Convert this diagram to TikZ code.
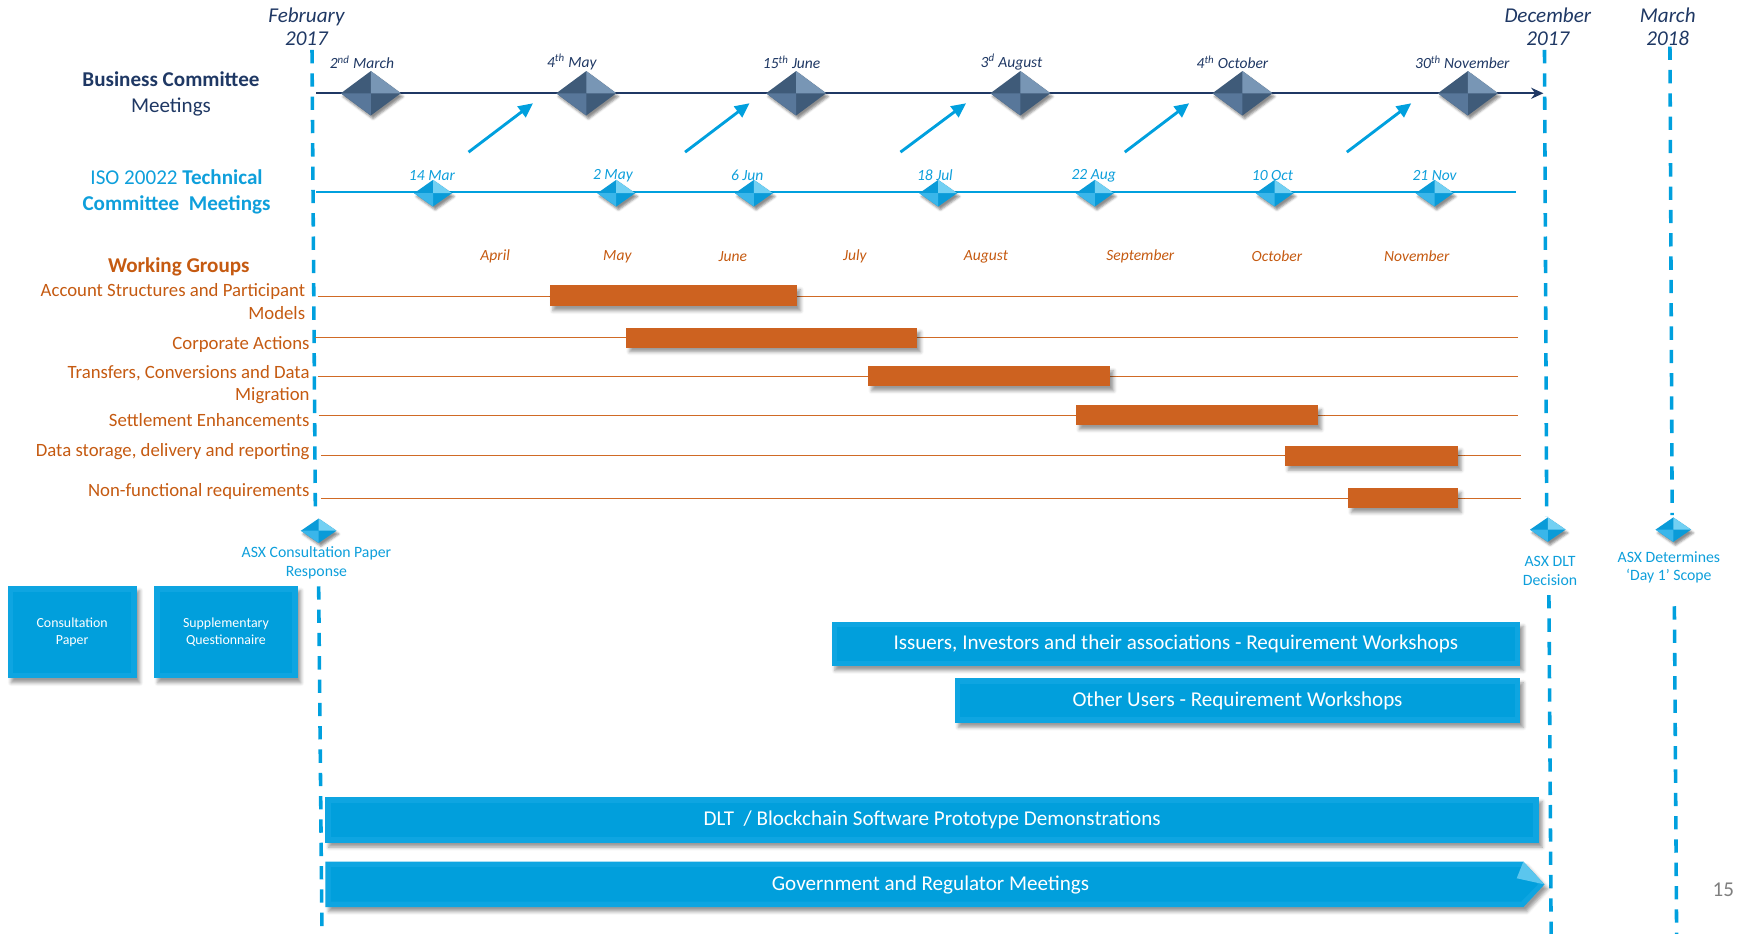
\documentclass[tikz,border=0pt]{standalone}
\usepackage{fontspec}
\setmainfont{Carlito}
\usetikzlibrary{arrows.meta,shadows.blur}

\definecolor{navy}{HTML}{1F3864}
\definecolor{gemnavy}{HTML}{3F5B79}
\definecolor{gemnavylt}{HTML}{7896B5}
\definecolor{gemnavymd}{HTML}{58779A}
\definecolor{sky}{HTML}{00A0DE}
\definecolor{skytext}{HTML}{0E9FDB}
\definecolor{gemsky}{HTML}{0A9BD8}
\definecolor{gemskylt}{HTML}{72D0F3}
\definecolor{gemskymd}{HTML}{3AB6EA}
\definecolor{rust}{HTML}{C55A11}
\definecolor{rustline}{HTML}{D06A25}
\definecolor{rustbar}{HTML}{CD6220}
\definecolor{boxblue}{HTML}{019FDC}
\definecolor{boxedge}{HTML}{0EA5E1}
\definecolor{pagegray}{HTML}{7F7F7F}

\tikzset{
  pics/gem/.style n args={5}{code={
    \fill[#3, blur shadow={shadow xshift=2pt, shadow yshift=-3pt, shadow opacity=45, shadow blur radius=2pt}]
      (-#1,0) -- (0,-#2) -- (#1,0) -- (0,#2) -- cycle;
    \fill[#4] (0,-#2) -- (#1,0) -- (0,0) -- cycle;
    \fill[#5] (-#1,0) -- (0,#2) -- (0,0) -- cycle;
  }},
  toplabel/.style={font=\fontsize{19}{21}\selectfont\itshape, text=navy, align=center, inner sep=0pt},
  rowhead/.style={font=\fontsize{19}{23.5}\selectfont, align=center, inner sep=0pt},
  bdate/.style={font=\fontsize{14}{16}\selectfont\itshape, text=navy, inner sep=0pt},
  idate/.style={font=\fontsize{14}{16}\selectfont\itshape, text=skytext, inner sep=0pt},
  month/.style={font=\fontsize{14}{16}\selectfont\itshape, text=rust, inner sep=0pt},
  wglabel/.style={font=\fontsize{16.9}{20}\selectfont, text=rust, align=right, anchor=east, inner sep=0pt},
  asxlabel/.style={font=\fontsize{14.2}{17}\selectfont, text=skytext, align=center, inner sep=0pt},
  vdash/.style={draw=sky, line width=3.2pt, dash pattern=on 12pt off 9pt},
  feedarrow/.style={draw=sky, line width=2.6pt, -{Triangle[length=13pt,width=12pt]}},
  rowline/.style={draw=rustline, line width=1.3pt},
  bar/.style={fill=rustbar, inner sep=0pt,
    blur shadow={shadow xshift=3pt, shadow yshift=-4pt, shadow opacity=40, shadow blur radius=3pt}},
  bluebox/.style={fill=boxedge, inner sep=0pt, text=white, align=center,
    blur shadow={shadow xshift=3pt, shadow yshift=-4pt, shadow opacity=40, shadow blur radius=3pt},
    path picture={\fill[boxblue] ([shift={(5pt,-5pt)}]path picture bounding box.north west)
      rectangle ([shift={(-5pt,5pt)}]path picture bounding box.south east);}},
  smallbox/.style={bluebox, font=\fontsize{12.5}{15}\selectfont},
  widebox/.style={bluebox, font=\fontsize{19}{21}\selectfont},
}

\begin{document}
\begin{tikzpicture}[x=1pt, y=-1pt]
\useasboundingbox (0,0) rectangle (1568,841);

% ---------- milestone columns ----------
\node[toplabel] (feb) at (276,24) {February\\2017};
\node[toplabel] (dec) at (1394,24) {December\\2017};
\node[toplabel] (mar) at (1502,24) {March\\2018};

\coordinate (febA) at (281,45);   \coordinate (febB) at (284,459);
\coordinate (febC) at (287,528);  \coordinate (febD) at (290,841);
\coordinate (decA) at (1391,45);  \coordinate (decB) at (1393,465);
\coordinate (decC) at (1395,536); \coordinate (decD) at (1397,841);
\coordinate (marA) at (1504,42);  \coordinate (marB) at (1506,464);
\coordinate (marC) at (1508,546); \coordinate (marD) at (1510,841);
\draw[vdash] (febA) -- (febB);
\draw[vdash] (febC) -- (febD);
\draw[vdash] (decA) -- (decB);
\draw[vdash] (decC) -- (decD);
\draw[vdash] (marA) -- (marB);
\draw[vdash] (marC) -- (marD);

% ---------- Business Committee ----------
\node[rowhead, text=navy] (bc) at (154,84.5) {\textbf{Business Committee}\\Meetings};
\coordinate (bs) at (285,84);
\coordinate (be) at (1390,84);
\draw[navy, line width=2pt, -{Stealth[length=11pt,width=10pt]}] (bs) -- (be);

\coordinate (b1) at (334,84);
\coordinate (b2) at (528,84);
\coordinate (b3) at (717,84);
\coordinate (b4) at (919,84);
\coordinate (b5) at (1119,84);
\coordinate (b6) at (1322,84);
\foreach \c in {b1,b2,b3,b4,b5,b6} { \pic at (\c) {gem={27}{20}{gemnavy}{gemnavylt}{gemnavymd}}; }

\node[bdate] (bl1) at (326,56) {2\textsuperscript{nd} March};
\node[bdate] (bl2) at (515,56) {4\textsuperscript{th} May};
\node[bdate] (bl3) at (713,56) {15\textsuperscript{th} June};
\node[bdate] (bl4) at (911,56) {3\textsuperscript{d} August};
\node[bdate] (bl5) at (1110,56) {4\textsuperscript{th} October};
\node[bdate] (bl6) at (1317,56) {30\textsuperscript{th} November};

% ---------- feed arrows into the business meetings ----------
\coordinate (t1) at (422,137);  \coordinate (h1) at (480,93);
\coordinate (t2) at (617,137);  \coordinate (h2) at (675,93);
\coordinate (t3) at (811,137);  \coordinate (h3) at (870,93);
\coordinate (t4) at (1013,137); \coordinate (h4) at (1071,93);
\coordinate (t5) at (1213,137); \coordinate (h5) at (1271,93);
\draw[feedarrow] (t1) -- (h1);
\draw[feedarrow] (t2) -- (h2);
\draw[feedarrow] (t3) -- (h3);
\draw[feedarrow] (t4) -- (h4);
\draw[feedarrow] (t5) -- (h5);

% ---------- ISO 20022 Technical Committee ----------
\node[rowhead, text=skytext] (iso) at (159,173) {ISO 20022 \textbf{Technical}\\\textbf{Committee~ Meetings}};
\coordinate (is) at (285,173);
\coordinate (ie) at (1365,173);
\draw[sky, line width=1.3pt] (is) -- (ie);

\coordinate (i1) at (390,174);
\coordinate (i2) at (555,174);
\coordinate (i3) at (679,174);
\coordinate (i4) at (845,174);
\coordinate (i5) at (986,174);
\coordinate (i6) at (1148,174);
\coordinate (i7) at (1292,174);
\foreach \c in {i1,i2,i3,i4,i5,i6,i7} { \pic at (\c) {gem={17}{12}{gemsky}{gemskylt}{gemskymd}}; }

\node[idate] (il1) at (389,158) {14 Mar};
\node[idate] (il2) at (552,158) {2 May};
\node[idate] (il3) at (673,158) {6 Jun};
\node[idate] (il4) at (842,158) {18 Jul};
\node[idate] (il5) at (985,158) {22 Aug};
\node[idate] (il6) at (1146,158) {10 Oct};
\node[idate] (il7) at (1292,158) {21 Nov};

% ---------- Working Groups ----------
\node[font=\fontsize{19}{22}\selectfont\bfseries, text=rust, inner sep=0pt] (wg) at (161,240) {Working Groups};

\node[month] (mApr) at (446,231) {April};
\node[month] (mMay) at (556,231) {May};
\node[month] (mJun) at (660,231) {June};
\node[month] (mJul) at (770,231) {July};
\node[month] (mAug) at (888,231) {August};
\node[month] (mSep) at (1027,231) {September};
\node[month] (mOct) at (1150,231) {October};
\node[month] (mNov) at (1276,231) {November};

\node[wglabel] (w1) at (275,271.5) {Account Structures and Participant\\Models};
\node[wglabel] (w2) at (279,310) {Corporate Actions};
\node[wglabel] (w3) at (279,346.5) {Transfers, Conversions and Data\\Migration};
\node[wglabel] (w4) at (279,378) {Settlement Enhancements};
\node[wglabel] (w5) at (279,407) {Data storage, delivery and reporting};
\node[wglabel] (w6) at (279,443) {Non-functional requirements};

\coordinate (r1a) at (286,267); \coordinate (r1b) at (1367,267);
\coordinate (r2a) at (284,304); \coordinate (r2b) at (1367,304);
\coordinate (r3a) at (286,339); \coordinate (r3b) at (1367,339);
\coordinate (r4a) at (287,374); \coordinate (r4b) at (1367,374);
\coordinate (r5a) at (289,410); \coordinate (r5b) at (1370,410);
\coordinate (r6a) at (289,449); \coordinate (r6b) at (1370,449);
\draw[rowline] (r1a) -- (r1b);
\draw[rowline] (r2a) -- (r2b);
\draw[rowline] (r3a) -- (r3b);
\draw[rowline] (r4a) -- (r4b);
\draw[rowline] (r5a) -- (r5b);
\draw[rowline] (r6a) -- (r6b);

\node[bar, minimum width=223pt, minimum height=19pt] (g1) at (606.5,266.5) {};
\node[bar, minimum width=262pt, minimum height=18pt] (g2) at (695,304) {};
\node[bar, minimum width=218pt, minimum height=18pt] (g3) at (891,339) {};
\node[bar, minimum width=218pt, minimum height=18pt] (g4) at (1078,374) {};
\node[bar, minimum width=156pt, minimum height=18pt] (g5) at (1235,410.5) {};
\node[bar, minimum width=99pt, minimum height=18pt] (g6) at (1263.5,448.5) {};

% ---------- ASX milestones ----------
\coordinate (m1) at (287,478);
\coordinate (m2) at (1394,477);
\coordinate (m3) at (1507,477);
\foreach \c in {m1,m2,m3} { \pic at (\c) {gem={16}{11}{gemsky}{gemskylt}{gemskymd}}; }
\node[asxlabel] (ml1) at (285,506.5) {ASX Consultation Paper\\Response};
\node[asxlabel] (ml2) at (1396,514.5) {ASX DLT\\Decision};
\node[asxlabel] (ml3) at (1503,511) {ASX Determines\\‘Day 1’ Scope};

% ---------- documents ----------
\node[smallbox, minimum width=116pt, minimum height=83pt] (cp) at (65,569.5) {Consultation\\Paper};
\node[smallbox, minimum width=129pt, minimum height=83pt] (sq) at (203.5,569.5) {Supplementary\\Questionnaire};

% ---------- workshops and demonstrations ----------
\node[widebox, minimum width=620pt, minimum height=40pt] (iss) at (1059,580)
  {Issuers, Investors and their associations - Requirement Workshops};
\node[widebox, minimum width=509pt, minimum height=40pt] (oth) at (1114.5,631)
  {Other Users - Requirement Workshops};
\node[widebox, minimum width=1093pt, minimum height=41pt] (dlt) at (839.5,738.5)
  {DLT~ / Blockchain Software Prototype Demonstrations};

% government meetings: pointed band running up to the December line
\coordinate (gNW) at (293,776);
\coordinate (gNE) at (1372,776);
\coordinate (gTip) at (1391,796.5);
\coordinate (gSE) at (1372,817);
\coordinate (gSW) at (293,817);
\fill[boxedge, blur shadow={shadow xshift=3pt, shadow yshift=-4pt, shadow opacity=40, shadow blur radius=3pt}]
  (gNW) -- (gNE) -- (gTip) -- (gSE) -- (gSW) -- cycle;
\fill[boxblue] (298,781) -- (1370,781) -- (1385,796.5) -- (1370,812) -- (298,812) -- cycle;
\fill[gemskylt!80!boxblue] (gNE) -- (gTip) -- (1366,791) -- cycle;
\node[font=\fontsize{19}{21}\selectfont, text=white, inner sep=0pt] (gov) at (838,797)
  {Government and Regulator Meetings};

% ---------- page number ----------
\node[font=\fontsize{19}{22}\selectfont, text=pagegray, inner sep=0pt] (pg) at (1552,801) {15};
\end{tikzpicture}
\end{document}
